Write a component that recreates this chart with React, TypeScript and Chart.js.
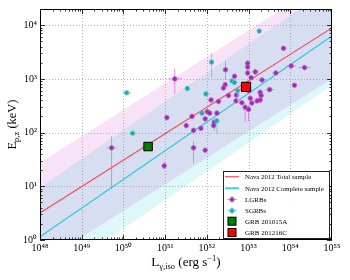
import React, { useEffect, useRef } from "react";
import { Chart, registerables } from "chart.js";

Chart.register(...registerables);

// ---------- axis ticks ----------
const xTickValues = [1e48, 1e49, 1e50, 1e51, 1e52, 1e53, 1e54, 1e55];
const xTickLabels = ["10⁴⁸", "10⁴⁹", "10⁵⁰", "10⁵¹", "10⁵²", "10⁵³", "10⁵⁴", "10⁵⁵"];
const yTickValues = [1, 10, 100, 1000, 10000];
const yTickLabels = ["10⁰", "10¹", "10²", "10³", "10⁴"];
const xMin = 1e48;
const xMax = 1e55;
const yMin = 1;
const yMax = 2e4;

// ---------- Nava 2012 relations (end points) and scatter bands ----------
const fitL = [1e48, 1e55];
const totalFitEp = [3.2, 8900];
const completeFitEp = [1.15, 6300];
const totalBandUpper = [27.5, 77600];
const totalBandLower = [0.363, 1020];
const completeBandUpper = [9.5, 52500];
const completeBandLower = [0.138, 760];

// ---------- LGRBs ----------
const lgrbL = [
  6.9e53, 2.8e52, 9.5e52, 9.5e52, 9.5e52, 1.45e53, 4.5e53, 1.05e54, 2.2e54, 4.6e52,
  1.15e53, 2.1e53, 3.2e53, 1.26e54, 2.75e52, 2.5e52, 1.7e51, 3.3e52, 5.1e52, 5.0e52,
  1.0e53, 1.1e53, 1.9e53, 2.0e53, 1.9e53, 1.26e52, 1.9e52, 1.2e53, 8.3e52, 1.0e53,
  1.02e52, 1.17e52, 1.74e52, 4.4e51, 9.1e51, 1.5e52, 3.2e51, 7.2e51, 4.8e51, 4.8e51,
  9.1e51, 1.1e51, 5.2e49, 9.5e50, 7.4e52, 1.45e52, 6.9e52, 1.6e53,
];
const lgrbEp = [
  3700, 1480, 1950, 1660, 1290, 1350, 1290, 1740, 1620, 1120,
  1050, 955, 630, 760, 780, 675, 1000, 490, 500, 390,
  600, 435, 560, 490, 405, 405, 380, 355, 295, 270,
  245, 230, 230, 200, 180, 155, 135, 120, 110, 52,
  47, 190, 52, 24, 650, 135, 360, 390,
];
// errors in dex
const lgrbEpErrUp = [
  0.04, 0.16, 0.06, 0.05, 0.06, 0.05, 0.04, 0.04, 0.04, 0.05,
  0.05, 0.05, 0.04, 0.04, 0.05, 0.05, 0.19, 0.05, 0.05, 0.05,
  0.05, 0.06, 0.05, 0.05, 0.06, 0.05, 0.05, 0.05, 0.08, 0.08,
  0.05, 0.05, 0.05, 0.05, 0.05, 0.08, 0.05, 0.05, 0.05, 0.13,
  0.04, 0.05, 0.22, 0.08, 0.05, 0.05, 0.05, 0.05,
];
const lgrbEpErrDown = [
  0.04, 0.19, 0.06, 0.05, 0.06, 0.05, 0.04, 0.04, 0.04, 0.05,
  0.05, 0.05, 0.04, 0.04, 0.05, 0.05, 0.28, 0.05, 0.05, 0.05,
  0.05, 0.08, 0.05, 0.05, 0.06, 0.05, 0.05, 0.05, 0.28, 0.22,
  0.05, 0.05, 0.05, 0.05, 0.05, 0.15, 0.05, 0.05, 0.08, 0.29,
  0.04, 0.05, 0.76, 0.06, 0.05, 0.05, 0.05, 0.05,
];
const lgrbLErr = [
  0.05, 0.05, 0.05, 0.04, 0.04, 0.08, 0.08, 0.12, 0.14, 0.05,
  0.05, 0.1, 0.1, 0.05, 0.05, 0.05, 0.17, 0.05, 0.05, 0.05,
  0.05, 0.05, 0.05, 0.05, 0.05, 0.05, 0.05, 0.05, 0.05, 0.05,
  0.05, 0.05, 0.05, 0.05, 0.05, 0.05, 0.05, 0.05, 0.05, 0.08,
  0.04, 0.05, 0.12, 0.05, 0.05, 0.05, 0.05, 0.05,
];

// ---------- SGRBs ----------
const sgrbL = [1.2e50, 1.66e50, 3.4e51, 7.6e51, 9.5e51, 1.3e52, 1.74e52, 4.0e52, 4.6e52, 5.5e52, 1.8e53];
const sgrbEp = [550, 97, 660, 230, 525, 2050, 166, 915, 855, 600, 7760];
const sgrbEpErrUp = [0.04, 0.03, 0.05, 0.04, 0.05, 0.17, 0.05, 0.04, 0.04, 0.05, 0.03];
const sgrbEpErrDown = [0.04, 0.03, 0.05, 0.04, 0.05, 0.29, 0.25, 0.04, 0.04, 0.2, 0.03];
const sgrbLErr = [0.1, 0.08, 0.05, 0.04, 0.08, 0.05, 0.05, 0.05, 0.05, 0.05, 0.05];

// ---------- the two bursts ----------
const grb201015aL = [3.9e50];
const grb201015aEp = [55];
const grb201015aEpErr = [0.08];
const grb201216cL = [8.7e52];
const grb201216cEp = [710];

const legendLabels = [
  "Nava 2012 Total sample",
  "Nava 2012 Complete sample",
  "LGRBs",
  "SGRBs",
  "GRB 201015A",
  "GRB 201216C",
];

// ---------- styles ----------
const FONT = "'Liberation Serif', 'Times New Roman', serif";
const PINK_BAND = "rgba(218,112,214,0.2)";
const CYAN_BAND = "rgba(0,190,200,0.13)";
const RED_LINE = "rgba(255,20,20,0.72)";
const CYAN_LINE = "rgba(0,195,205,0.78)";
const LGRB_FILL = "rgba(140,30,160,0.85)";
const LGRB_EDGE = "rgba(205,90,215,0.9)";
const LGRB_ERR = "rgba(215,110,220,0.75)";
const SGRB_FILL = "rgba(25,160,165,0.9)";
const SGRB_EDGE = "rgba(90,205,210,0.9)";
const SGRB_ERR = "rgba(90,205,210,0.8)";

const pts = (xs: number[], ys: number[]) => xs.map((x, i) => ({ x, y: ys[i] }));

const LGRB_IDX = 6;
const SGRB_IDX = 7;
const GREEN_IDX = 8;

function drawErrBars(
  chart: any,
  xs: number[],
  ys: number[],
  up: number[],
  dn: number[],
  ex: number[] | null,
  color: string
) {
  const { ctx, chartArea, scales } = chart;
  const sx = scales.x;
  const sy = scales.y;
  ctx.save();
  ctx.beginPath();
  ctx.rect(chartArea.left, chartArea.top, chartArea.right - chartArea.left, chartArea.bottom - chartArea.top);
  ctx.clip();
  ctx.strokeStyle = color;
  ctx.lineWidth = 1;
  for (let i = 0; i < xs.length; i++) {
    const px = sx.getPixelForValue(xs[i]);
    const py = sy.getPixelForValue(ys[i]);
    ctx.beginPath();
    ctx.moveTo(px, sy.getPixelForValue(ys[i] * Math.pow(10, up[i])));
    ctx.lineTo(px, sy.getPixelForValue(ys[i] / Math.pow(10, dn[i])));
    if (ex) {
      ctx.moveTo(sx.getPixelForValue(xs[i] / Math.pow(10, ex[i])), py);
      ctx.lineTo(sx.getPixelForValue(xs[i] * Math.pow(10, ex[i])), py);
    }
    ctx.stroke();
  }
  ctx.restore();
}

function drawRich(ctx: any, parts: { t: string; size: number; dy: number }[], x: number, y: number, center: boolean) {
  let w = 0;
  for (const p of parts) {
    ctx.font = `${p.size}px ${FONT}`;
    w += ctx.measureText(p.t).width;
  }
  let cx = center ? x - w / 2 : x;
  for (const p of parts) {
    ctx.font = `${p.size}px ${FONT}`;
    ctx.fillText(p.t, cx, y + p.dy);
    cx += ctx.measureText(p.t).width;
  }
}

const decoPlugin = {
  id: "deco",
  beforeDatasetsDraw(chart: any) {
    const { ctx, chartArea, scales } = chart;
    const { left, right, top, bottom } = chartArea;
    ctx.save();
    ctx.strokeStyle = "rgba(150,150,150,0.9)";
    ctx.lineWidth = 0.8;
    ctx.setLineDash([1, 2]);
    for (const v of xTickValues) {
      const px = Math.round(scales.x.getPixelForValue(v)) + 0.5;
      if (px <= left + 1 || px >= right - 1) continue;
      ctx.beginPath();
      ctx.moveTo(px, top);
      ctx.lineTo(px, bottom);
      ctx.stroke();
    }
    for (const v of yTickValues) {
      const py = Math.round(scales.y.getPixelForValue(v)) + 0.5;
      if (py <= top + 1 || py >= bottom - 1) continue;
      ctx.beginPath();
      ctx.moveTo(left, py);
      ctx.lineTo(right, py);
      ctx.stroke();
    }
    ctx.restore();
  },
  beforeDatasetDraw(chart: any, args: any) {
    if (args.index === LGRB_IDX) {
      drawErrBars(chart, lgrbL, lgrbEp, lgrbEpErrUp, lgrbEpErrDown, lgrbLErr, LGRB_ERR);
    } else if (args.index === SGRB_IDX) {
      drawErrBars(chart, sgrbL, sgrbEp, sgrbEpErrUp, sgrbEpErrDown, sgrbLErr, SGRB_ERR);
    } else if (args.index === GREEN_IDX) {
      drawErrBars(chart, grb201015aL, grb201015aEp, grb201015aEpErr, grb201015aEpErr, null, "rgba(0,128,0,0.9)");
    }
  },
  afterDraw(chart: any) {
    const { ctx, chartArea, scales } = chart;
    const { left, right, top, bottom } = chartArea;
    ctx.save();
    // inward ticks on all four sides
    ctx.strokeStyle = "#000";
    ctx.lineWidth = 0.8;
    const xDec = xTickValues.slice(0, -1);
    for (const d of xDec) {
      for (let m = 1; m < 10; m++) {
        const v = d * m;
        if (v < xMin || v > xMax) continue;
        const px = Math.round(scales.x.getPixelForValue(v)) + 0.5;
        const len = m === 1 ? 5 : 2.5;
        ctx.beginPath();
        ctx.moveTo(px, bottom);
        ctx.lineTo(px, bottom - len);
        ctx.moveTo(px, top);
        ctx.lineTo(px, top + len);
        ctx.stroke();
      }
    }
    for (const d of yTickValues) {
      for (let m = 1; m < 10; m++) {
        const v = d * m;
        if (v < yMin || v > yMax) continue;
        const py = Math.round(scales.y.getPixelForValue(v)) + 0.5;
        const len = m === 1 ? 5 : 2.5;
        ctx.beginPath();
        ctx.moveTo(left, py);
        ctx.lineTo(left + len, py);
        ctx.moveTo(right, py);
        ctx.lineTo(right - len, py);
        ctx.stroke();
      }
    }
    // frame
    ctx.lineWidth = 1;
    ctx.strokeRect(left + 0.5, top + 0.5, right - left - 1, bottom - top - 1);

    // axis titles
    ctx.fillStyle = "#000";
    ctx.textBaseline = "alphabetic";
    ctx.textAlign = "left";
    drawRich(
      ctx,
      [
        { t: "L", size: 13, dy: 0 },
        { t: "γ,iso", size: 8.5, dy: 3 },
        { t: " (erg s", size: 13, dy: 0 },
        { t: "−1", size: 8.5, dy: -5 },
        { t: ")", size: 13, dy: 0 },
      ],
      (left + right) / 2,
      266,
      true
    );
    ctx.save();
    ctx.translate(16, (top + bottom) / 2);
    ctx.rotate(-Math.PI / 2);
    drawRich(
      ctx,
      [
        { t: "E", size: 12.5, dy: 0 },
        { t: "p,z", size: 8.5, dy: 3 },
        { t: " (keV)", size: 12.5, dy: 0 },
      ],
      0,
      0,
      true
    );
    ctx.restore();

    // legend
    const bx = 223.5;
    const by = 171.5;
    const bw = 106;
    const bh = 67;
    ctx.fillStyle = "rgba(255,255,255,0.95)";
    ctx.fillRect(bx, by, bw, bh);
    ctx.strokeStyle = "#222";
    ctx.lineWidth = 1;
    ctx.strokeRect(bx, by, bw, bh);
    const rows = [176.7, 188.3, 199.5, 210.7, 221.2, 232.5];
    const hx = 232;
    const tx = 245;
    // lines
    ctx.lineWidth = 1.2;
    ctx.strokeStyle = RED_LINE;
    ctx.beginPath();
    ctx.moveTo(225, rows[0]);
    ctx.lineTo(239, rows[0]);
    ctx.stroke();
    ctx.strokeStyle = CYAN_LINE;
    ctx.lineWidth = 2;
    ctx.beginPath();
    ctx.moveTo(225, rows[1]);
    ctx.lineTo(239, rows[1]);
    ctx.stroke();
    // markers with error bars
    const mk = (y: number, err: string, fill: string, edge: string) => {
      ctx.strokeStyle = err;
      ctx.lineWidth = 1;
      ctx.beginPath();
      ctx.moveTo(hx - 5, y);
      ctx.lineTo(hx + 5, y);
      ctx.moveTo(hx, y - 3.5);
      ctx.lineTo(hx, y + 3.5);
      ctx.stroke();
      ctx.fillStyle = fill;
      ctx.strokeStyle = edge;
      ctx.lineWidth = 0.8;
      ctx.beginPath();
      ctx.arc(hx, y, 2.3, 0, Math.PI * 2);
      ctx.fill();
      ctx.stroke();
    };
    mk(rows[2], LGRB_ERR, LGRB_FILL, LGRB_EDGE);
    mk(rows[3], SGRB_ERR, SGRB_FILL, SGRB_EDGE);
    ctx.lineWidth = 1;
    ctx.strokeStyle = "#000";
    ctx.fillStyle = "#008000";
    ctx.fillRect(hx - 4, rows[4] - 4, 8, 8);
    ctx.strokeRect(hx - 4, rows[4] - 4, 8, 8);
    ctx.fillStyle = "#ff0000";
    ctx.fillRect(hx - 4, rows[5] - 4, 8, 8);
    ctx.strokeRect(hx - 4, rows[5] - 4, 8, 8);
    // texts
    ctx.fillStyle = "#000";
    ctx.textBaseline = "middle";
    ctx.textAlign = "left";
    legendLabels.forEach((t, i) => {
      ctx.font = `${i < 2 ? 6.8 : 7}px ${FONT}`;
      ctx.fillText(t, tx, rows[i] + 0.5);
    });
    ctx.restore();
  },
};

export default function App() {
  const ref = useRef<HTMLCanvasElement>(null);
  useEffect(() => {
    const lineDs = (data: any, extra: any) => ({
      type: "line",
      data,
      pointRadius: 0,
      borderWidth: 0,
      tension: 0,
      ...extra,
    });
    const chart = new Chart(ref.current as HTMLCanvasElement, {
      type: "scatter",
      data: {
        datasets: [
          lineDs(pts(fitL, totalBandUpper), { fill: "+1", backgroundColor: PINK_BAND, order: 10 }),
          lineDs(pts(fitL, totalBandLower), { fill: false, order: 10 }),
          lineDs(pts(fitL, completeBandUpper), { fill: "+1", backgroundColor: CYAN_BAND, order: 9 }),
          lineDs(pts(fitL, completeBandLower), { fill: false, order: 9 }),
          lineDs(pts(fitL, totalFitEp), { fill: false, borderColor: RED_LINE, borderWidth: 1.2, order: 5 }),
          lineDs(pts(fitL, completeFitEp), { fill: false, borderColor: CYAN_LINE, borderWidth: 1.2, order: 5 }),
          {
            data: pts(lgrbL, lgrbEp),
            pointRadius: 2.3,
            pointBackgroundColor: LGRB_FILL,
            pointBorderColor: LGRB_EDGE,
            pointBorderWidth: 0.8,
            order: 3,
          },
          {
            data: pts(sgrbL, sgrbEp),
            pointRadius: 2.3,
            pointBackgroundColor: SGRB_FILL,
            pointBorderColor: SGRB_EDGE,
            pointBorderWidth: 0.8,
            order: 2,
          },
          {
            data: pts(grb201015aL, grb201015aEp),
            pointStyle: "rect",
            pointRadius: 6,
            pointBackgroundColor: "#008000",
            pointBorderColor: "#000",
            pointBorderWidth: 1,
            order: 1,
          },
          {
            data: pts(grb201216cL, grb201216cEp),
            pointStyle: "rect",
            pointRadius: 6.5,
            pointBackgroundColor: "#ff0000",
            pointBorderColor: "#000",
            pointBorderWidth: 1,
            order: 1,
          },
        ] as any,
      },
      options: {
        animation: false,
        responsive: true,
        maintainAspectRatio: false,
        events: [],
        layout: { padding: { top: 8, right: 18, left: 0, bottom: 0 } },
        plugins: { legend: { display: false }, tooltip: { enabled: false } },
        scales: {
          x: {
            type: "logarithmic",
            min: xMin,
            max: xMax,
            afterBuildTicks: (axis: any) => {
              axis.ticks = xTickValues.map((v) => ({ value: v }));
            },
            afterFit: (axis: any) => {
              axis.height = 40;
            },
            ticks: {
              autoSkip: false,
              maxRotation: 0,
              padding: 2,
              color: "#000",
              font: { family: FONT, size: 10 },
              callback: (_v: any, i: number) => xTickLabels[i],
            },
            grid: { display: false, drawTicks: false },
            border: { display: false },
          },
          y: {
            type: "logarithmic",
            min: yMin,
            max: yMax,
            afterBuildTicks: (axis: any) => {
              axis.ticks = yTickValues.map((v) => ({ value: v }));
            },
            afterFit: (axis: any) => {
              axis.width = 40;
            },
            ticks: {
              autoSkip: false,
              padding: 3,
              color: "#000",
              font: { family: FONT, size: 10 },
              callback: (_v: any, i: number) => yTickLabels[i],
            },
            grid: { display: false, drawTicks: false },
            border: { display: false },
          },
        },
      } as any,
      plugins: [decoPlugin],
    });
    return () => chart.destroy();
  }, []);
  return (
    <div style={{ position: "absolute", left: 0, top: 0, width: 350, height: 280, background: "#fff" }}>
      <canvas ref={ref} />
    </div>
  );
}
